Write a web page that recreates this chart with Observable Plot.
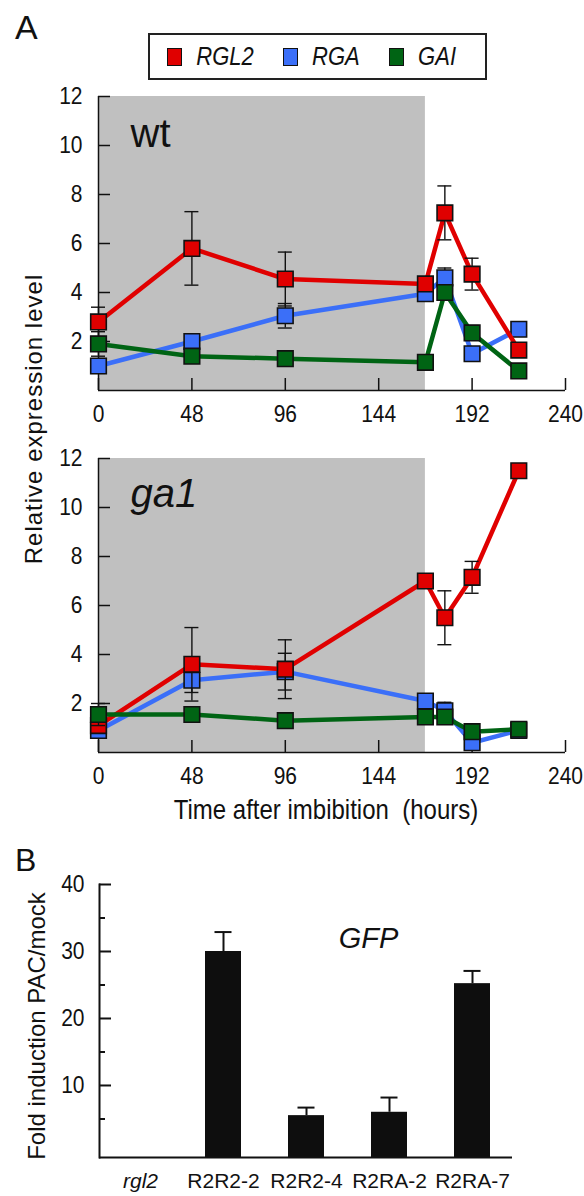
<!DOCTYPE html>
<html><head><meta charset="utf-8">
<script src="https://cdn.jsdelivr.net/npm/d3@7"></script>
<script src="https://cdn.jsdelivr.net/npm/@observablehq/plot@0.6"></script>
<style>
html,body{margin:0;padding:0;background:#fff;}
#page{position:relative;width:584px;height:1196px;overflow:hidden;font-family:"Liberation Sans",Arial,sans-serif;color:#111;}
.abs{position:absolute;left:0;}
.narrow{transform-box:fill-box;transform-origin:center;transform:scaleY(1.15);}
#legend{position:absolute;left:148px;top:33px;width:339px;height:47px;box-sizing:border-box;border:2px solid #222;display:flex;align-items:center;padding-left:17px;}
#legend .sw{display:inline-block;width:18px;height:18px;box-sizing:border-box;border:1.5px solid #111;}
#legend .lab{display:inline-block;font-style:italic;font-size:22px;margin-left:14px;margin-right:29px;transform:scaleY(1.13);color:#111;}
</style></head><body><div id="page"></div>
<script>
// ---------- data ----------
const times = [0, 48, 96, 168, 178, 192, 216];
const xTicks = [0, 48, 96, 144, 192, 240];
const yTicksA = [2, 4, 6, 8, 10, 12];
const shadedHours = [0, 168];
const genes = ["RGL2", "RGA", "GAI"];
const geneColors = ["#e00000", "#3b6ff8", "#006414"];
const drawOrder = ["RGA", "RGL2", "GAI"];

const wtRGL2 = [2.8, 5.8, 4.55, 4.35, 7.25, 4.75, 1.65];
const wtRGL2err = [0.6, 1.5, 1.1, 0, 1.1, 0.65, 0.2];
const wtRGA = [1.0, 2.0, 3.05, 3.95, 4.6, 1.5, 2.5];
const wtRGAerr = [0.3, 0.2, 0.5, 0.2, 0.4, 0.2, 0.1];
const wtGAI = [1.9, 1.4, 1.3, 1.15, 4.0, 2.35, 0.8];
const wtGAIerr = [0.5, 0.15, 0.1, 0.1, 0.3, 0.3, 0.25];

const ga1RGL2 = [1.1, 3.6, 3.4, 7.0, 5.5, 7.15, 11.5];
const ga1RGL2err = [0.3, 1.5, 1.2, 0, 1.1, 0.65, 0];
const ga1RGA = [0.9, 2.95, 3.3, 2.1, 1.7, 0.4, 0.9];
const ga1RGAerr = [0.2, 0.5, 0.75, 0, 0.35, 0, 0];
const ga1GAI = [1.55, 1.55, 1.3, 1.45, 1.45, 0.85, 0.95];
const ga1GAIerr = [0.45, 0, 0, 0, 0, 0, 0];

const barCats = ["rgl2", "R2R2-2", "R2R2-4", "R2RA-2", "R2RA-7"];
const barVals = [0, 30, 5.5, 6.0, 25.2];
const barErrs = [0, 2.9, 1.2, 2.2, 1.9];
const barMajorTicks = [10, 20, 30, 40];
const barMinorTicks = [5, 15, 25, 35];
const barYMin = -0.75;

// ---------- helpers ----------
const page = document.getElementById("page");
const ink = "#111";
const fontFamily = '"Liberation Sans", Arial, sans-serif';
const colorOf = g => geneColors[genes.indexOf(g)];

function rowsFor(v, e) { return times.map((t, i) => ({t, v: v[i], e: e[i]})); }

// make tick labels taller/narrower like the reference typeface
function narrowTicks(svg, k, sel) {
  svg.querySelectorAll(sel || 'g[aria-label="x-axis tick label"] text, g[aria-label="y-axis tick label"] text')
    .forEach(t => {
      const tr = t.getAttribute("transform") || "";
      t.setAttribute("transform", tr + ` scale(1,${k})`);
    });
}

function linePanel(label, italic, series, lay) {
  const marks = [
    Plot.rect([shadedHours], {x1: d => d[0], x2: d => d[1], fill: "#c0c0c0"}),
    Plot.ruleY([0], {stroke: ink, strokeWidth: 1.5}),
    Plot.ruleX([0], {stroke: ink, strokeWidth: 1.5}),
    Plot.ruleX(xTicks, {x: d => d, y1: 0, y2: 0, insetBottom: 12, stroke: ink, strokeWidth: 1.5}),
    Plot.ruleY(yTicksA, {y: d => d, x1: 0, x2: 0, insetRight: -12, stroke: ink, strokeWidth: 1.5}),
    Plot.axisX(xTicks, {tickSize: 0, tickPadding: 14, fontSize: 21, fill: ink, label: null}),
    Plot.axisY(yTicksA, {tickSize: 0, tickPadding: 16, fontSize: 21, fill: ink, label: null}),
    Plot.text([label], {frameAnchor: "top-left", dx: lay.labelDx, dy: lay.labelDy, text: d => d,
      textAnchor: "start", lineAnchor: "top", fontSize: 40, fontStyle: italic ? "italic" : "normal", fill: ink})
  ];
  for (const g of drawOrder) {
    const rows = series[g];
    const errRows = rows.filter(d => d.e > 0);
    marks.push(
      Plot.line(rows, {x: "t", y: "v", stroke: colorOf(g), strokeWidth: 4.5}),
      Plot.ruleX(errRows, {x: "t", y1: d => d.v - d.e, y2: d => d.v + d.e, stroke: ink, strokeWidth: 1.4}),
      Plot.ruleY(errRows, {y: d => d.v + d.e, x1: "t", x2: "t", insetLeft: -7, insetRight: -7, stroke: ink, strokeWidth: 1.4}),
      Plot.ruleY(errRows, {y: d => d.v - d.e, x1: "t", x2: "t", insetLeft: -7, insetRight: -7, stroke: ink, strokeWidth: 1.4}),
      Plot.dot(rows, {x: "t", y: "v", symbol: "square", r: 8.8, fill: colorOf(g), stroke: ink, strokeWidth: 1.6})
    );
  }
  const svg = Plot.plot({
    width: 584, height: lay.height,
    marginLeft: 98, marginRight: 19, marginTop: lay.mt, marginBottom: lay.mb,
    x: {domain: [0, 240], axis: null},
    y: {domain: [0, 12], axis: null},
    style: {fontFamily, fontSize: "21px", color: ink, background: "transparent", overflow: "visible"},
    marks
  });
  svg.classList.add("abs");
  svg.style.top = lay.top + "px";
  narrowTicks(svg, 1.15);
  page.appendChild(svg);
}

// ---------- panel A: wt ----------
linePanel("wt", false, {
  RGL2: rowsFor(wtRGL2, wtRGL2err),
  RGA: rowsFor(wtRGA, wtRGAerr),
  GAI: rowsFor(wtGAI, wtGAIerr)
}, {top: 0, height: 430, mt: 96, mb: 40, labelDx: 32, labelDy: 22});

// ---------- panel A: ga1 ----------
linePanel("ga1", true, {
  RGL2: rowsFor(ga1RGL2, ga1RGL2err),
  RGA: rowsFor(ga1RGA, ga1RGAerr),
  GAI: rowsFor(ga1GAI, ga1GAIerr)
}, {top: 430, height: 410, mt: 28, mb: 88, labelDx: 32, labelDy: 20});

// ---------- panel B: bars ----------
{
  const rows = barCats.map((c, i) => ({c, v: barVals[i], e: barErrs[i]}));
  const shown = rows.filter(d => d.v > 0);
  const W = 584, ml = 99, mr = 72;
  const frameW = W - ml - mr;
  const svg = Plot.plot({
    width: W, height: 356, marginLeft: ml, marginRight: mr, marginTop: 44, marginBottom: 39,
    x: {type: "band", domain: barCats, paddingInner: 0.57, paddingOuter: 0.26, axis: null},
    y: {domain: [barYMin, 40], axis: null},
    style: {fontFamily, fontSize: "21px", color: ink, background: "transparent", overflow: "visible"},
    marks: [
      Plot.barY(shown, {x: "c", y1: barYMin, y2: "v", fill: "#0e0e0e"}),
      Plot.ruleX(shown, {x: "c", y1: "v", y2: d => d.v + d.e, stroke: ink, strokeWidth: 2}),
      Plot.ruleY(shown, {y: d => d.v + d.e, x1: "c", x2: "c", insetLeft: 9.5, insetRight: 9.5, stroke: ink, strokeWidth: 2}),
      Plot.ruleY([barYMin], {stroke: ink, strokeWidth: 2}),
      Plot.frame({anchor: "left", stroke: ink, strokeWidth: 2}),
      Plot.ruleY(barMajorTicks, {y: d => d, insetRight: frameW - 12, stroke: ink, strokeWidth: 2}),
      Plot.ruleY(barMinorTicks, {y: d => d, insetRight: frameW - 6, stroke: ink, strokeWidth: 2}),
      Plot.axisY(barMajorTicks, {tickSize: 0, tickPadding: 15, fontSize: 21, fill: ink, label: null}),
      Plot.axisX(barCats, {tickSize: 0, tickPadding: 16, fontSize: 21, fill: ink, label: null}),
      Plot.text(["GFP"], {frameAnchor: "top-left", dx: 269, dy: 43, text: d => d, textAnchor: "middle",
        lineAnchor: "top", fontSize: 29, fontStyle: "italic", fill: ink})
    ]
  });
  svg.classList.add("abs");
  svg.style.top = "840px";
  svg.querySelectorAll('g[aria-label="x-axis tick label"] text').forEach(t => {
    if (t.textContent.trim() === "rgl2") t.setAttribute("font-style", "italic");
  });
  narrowTicks(svg, 1.13, 'g[aria-label="y-axis tick label"] text');
  page.appendChild(svg);
}

// ---------- page-level texts & legend ----------
{
  const ns = "http://www.w3.org/2000/svg";
  const ov = document.createElementNS(ns, "svg");
  ov.setAttribute("width", 584); ov.setAttribute("height", 1196);
  ov.setAttribute("class", "abs"); ov.style.top = "0px";
  ov.style.fontFamily = fontFamily; ov.style.pointerEvents = "none";
  function txt(s, attrs, cls) {
    const t = document.createElementNS(ns, "text");
    for (const k in attrs) t.setAttribute(k, attrs[k]);
    t.setAttribute("fill", ink);
    t.style.whiteSpace = "pre";
    if (cls) t.setAttribute("class", cls);
    t.textContent = s;
    ov.appendChild(t);
  }
  txt("A", {x: 15, y: 39, "font-size": 34});
  txt("B", {x: 15, y: 871, "font-size": 32});
  txt("Relative expression level", {transform: "translate(42,419) rotate(-90)", "text-anchor": "middle", "font-size": 24, "letter-spacing": 1});
  txt("Time after imbibition  (hours)", {x: 326, y: 818, "text-anchor": "middle", "font-size": 24}, "narrow");
  txt("Fold induction PAC/mock", {transform: "translate(45,1026) rotate(-90)", "text-anchor": "middle", "font-size": 24});
  page.appendChild(ov);

  const leg = document.createElement("div");
  leg.id = "legend";
  genes.forEach((g, i) => {
    const sw = document.createElement("span");
    sw.className = "sw"; sw.style.background = geneColors[i];
    const lb = document.createElement("span");
    lb.className = "lab"; lb.textContent = g;
    leg.appendChild(sw); leg.appendChild(lb);
  });
  page.appendChild(leg);
}
</script></body></html>
